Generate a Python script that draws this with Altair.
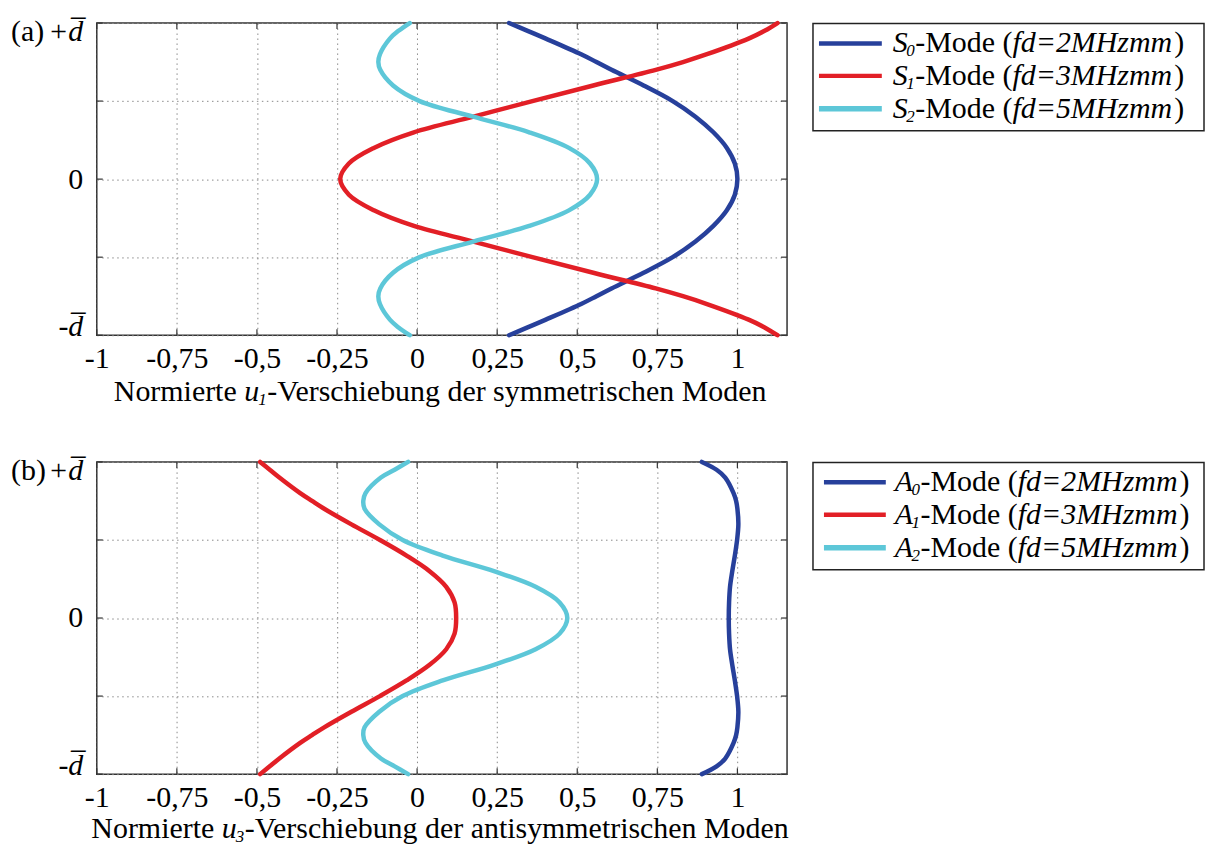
import altair as alt
import pandas as pd

# ---------------- data ----------------
Y = [-1.0, -0.95, -0.9, -0.8, -0.75, -0.7, -0.6, -0.5, -0.4, -0.3, -0.2, -0.1, 0.0,
     0.1, 0.2, 0.3, 0.4, 0.5, 0.6, 0.7, 0.75, 0.8, 0.9, 0.95, 1.0]

S0 = [0.287, 0.345, 0.402, 0.512, 0.56, 0.607, 0.707, 0.798, 0.869, 0.925, 0.967, 0.992, 1.0,
      0.992, 0.967, 0.925, 0.869, 0.798, 0.707, 0.607, 0.56, 0.512, 0.402, 0.345, 0.287]
S1 = [1.125, 1.085, 1.035, 0.905, 0.83, 0.745, 0.55, 0.36, 0.176, -0.01, -0.135, -0.213, -0.24,
      -0.213, -0.135, -0.01, 0.176, 0.36, 0.55, 0.745, 0.83, 0.905, 1.035, 1.085, 1.125]
S2 = [-0.023, -0.058, -0.085, -0.116, -0.121, -0.115, -0.075, 0.008, 0.175, 0.35, 0.474, 0.54, 0.562,
      0.54, 0.474, 0.35, 0.175, 0.008, -0.075, -0.115, -0.121, -0.116, -0.085, -0.058, -0.023]

A0 = [0.889, 0.935, 0.962, 0.988, 0.996, 1.0, 1.003, 0.999, 0.992, 0.984, 0.977, 0.974, 0.973,
      0.974, 0.977, 0.984, 0.992, 0.999, 1.003, 1.0, 0.996, 0.988, 0.962, 0.935, 0.889]
A1 = [-0.49, -0.46, -0.43, -0.365, -0.328, -0.29, -0.205, -0.116, -0.033, 0.039, 0.091, 0.117, 0.122,
      0.117, 0.091, 0.039, -0.033, -0.116, -0.205, -0.29, -0.328, -0.365, -0.43, -0.46, -0.49]
A2 = [-0.028, -0.07, -0.113, -0.161, -0.168, -0.164, -0.118, -0.045, 0.08, 0.24, 0.37, 0.445, 0.469,
      0.445, 0.37, 0.24, 0.08, -0.045, -0.118, -0.164, -0.168, -0.161, -0.113, -0.07, -0.028]

MODES_A = ["S0", "S1", "S2"]
MODES_B = ["A0", "A1", "A2"]
SUBS = ["0", "1", "2"]
FD = ["fd=2MHzmm", "fd=3MHzmm", "fd=5MHzmm"]
X_TICKS = [-1, -0.75, -0.5, -0.25, 0, 0.25, 0.5, 0.75, 1]
Y_TICKS = [-1, -0.5, 0, 0.5, 1]
X_DOMAIN = [-1, 1.155]

TITLE_A = ["Normierte ", "u", "1", "-Verschiebung der symmetrischen Moden"]
TITLE_B = ["Normierte ", "u", "3", "-Verschiebung der antisymmetrischen Moden"]

# ---------------- style ----------------
COLORS = ["#27409b", "#e21f26", "#5dc7d8"]
WIDTHS = [4.5, 4.5, 5.5]
W, H = 692, 313
FONT = "Liberation Serif"
FS = 30
SUBFS = 17

REG = {'N': .722, 'o': .5, 'r': .333, 'm': .778, 'i': .278, 'e': .444, 't': .278, ' ': .25,
       '-': .333, 'V': .722, 's': .389, 'c': .444, 'h': .5, 'b': .5, 'u': .5, 'n': .5,
       'g': .5, 'd': .5, 'y': .5, 'M': .889, 'a': .444, '(': .333, ')': .333}
ITA = {'S': .5, 'A': .611, 'u': .5, 'f': .278, 'd': .5, '=': .675, 'M': .833, 'H': .722,
       'z': .389, 'm': .722}


def tw(s, italic, size):
    tbl = ITA if italic else REG
    return sum(tbl.get(c, 0.5) for c in s) * size


def text_run(parts, x0, y0):
    layers = []
    x = x0
    for txt, italic, size, dy, kern in parts:
        x += kern
        layers.append(
            alt.Chart(pd.DataFrame({"t": [txt]}))
            .mark_text(align="left", baseline="middle", font=FONT, fontSize=size,
                       fontStyle="italic" if italic else "normal", dy=dy, color="black")
            .encode(text="t:N", x=alt.value(x), y=alt.value(y0))
        )
        x += tw(txt, italic, size)
    return layers


def panel(tag, letter, modes, series, title_parts, title_y, leg_line_x, leg_text_x):
    rows = []
    for m, vals in zip(modes, series):
        for yy, xx in zip(Y, vals):
            rows.append({"mode": m, "x": xx, "y": yy})
    df = pd.DataFrame(rows)

    xscale = alt.Scale(domain=X_DOMAIN, nice=False, zero=False)
    yscale = alt.Scale(domain=[-1, 1], nice=False, zero=False)
    grid = dict(grid=True, gridDash=[1.5, 3.5], gridColor="#8a8a8a", gridWidth=1,
                ticks=False, domain=False, labelFont=FONT, labelFontSize=FS,
                labelColor="black", title=None)
    xaxis = alt.Axis(values=X_TICKS, labelExpr="replace(toString(datum.value), '.', ',')",
                     labelPadding=8, labelFlush=False, **grid)
    yaxis = alt.Axis(values=Y_TICKS,
                     labelExpr="datum.value == 1 ? '+d\u0305' : datum.value == -1 ? '-d\u0305' : datum.value == 0 ? '0' : ''",
                     labelPadding=14, labelFlush=True, labelFlushOffset=6,
                     labelFontStyle={"condition": {"test": "datum.value != 0", "value": "italic"},
                                     "value": "normal"},
                     **grid)

    lines = alt.Chart(df).mark_line(interpolate="catmull-rom", strokeCap="round").encode(
        x=alt.X("x:Q", scale=xscale, axis=xaxis),
        y=alt.Y("y:Q", scale=yscale, axis=yaxis),
        color=alt.Color("mode:N", scale=alt.Scale(domain=modes, range=COLORS), legend=None),
        strokeWidth=alt.StrokeWidth("mode:N", scale=alt.Scale(domain=modes, range=WIDTHS), legend=None),
        order="y:Q",
    )

    xt = pd.DataFrame({"x": X_TICKS})
    yt = pd.DataFrame({"y": Y_TICKS})
    tk = dict(color="#333333", strokeWidth=1.2)
    ex = alt.X("x:Q", scale=xscale, axis=xaxis)
    ey = alt.Y("y:Q", scale=yscale, axis=yaxis)
    ticks = [
        alt.Chart(xt).mark_rule(**tk).encode(x=ex, y=alt.value(H), y2=alt.value(H - 6)),
        alt.Chart(xt).mark_rule(**tk).encode(x=ex, y=alt.value(0), y2=alt.value(6)),
        alt.Chart(yt).mark_rule(**tk).encode(y=ey, x=alt.value(0), x2=alt.value(6)),
        alt.Chart(yt).mark_rule(**tk).encode(y=ey, x=alt.value(W - 6), x2=alt.value(W)),
    ]

    # legend box
    box = alt.Chart(pd.DataFrame({"k": [0]})).mark_rect(
        fill="white", stroke="#222222", strokeWidth=1.5
    ).encode(x=alt.value(718), x2=alt.value(1110), y=alt.value(0.5), y2=alt.value(108))
    leg = [box]
    row_y = [20.5, 53, 86]
    for i, m in enumerate(modes):
        ry = row_y[i]
        leg.append(
            alt.Chart(pd.DataFrame({"mode": [m]})).mark_rule(
                color=COLORS[i], strokeWidth=WIDTHS[i]
            ).encode(x=alt.value(leg_line_x[0]), x2=alt.value(leg_line_x[1]), y=alt.value(ry))
        )
        parts = [
            (letter, True, FS, 0, 0),
            (SUBS[i], True, SUBFS, 8, -1.5),
            ("-Mode (", False, FS, 0, 0.5),
            (FD[i], True, FS, 0, 0),
            (")", False, FS, 0, 2),
        ]
        leg += text_run(parts, leg_text_x, ry)

    # axis title with italic u and subscript
    t_parts = [
        (title_parts[0], False, FS, 0, 0),
        (title_parts[1], True, FS, 0, 0),
        (title_parts[2], True, SUBFS, 8, -1),
        (title_parts[3], False, FS, 0, 0.5),
    ]
    total = sum(tw(p[0], p[1], p[2]) + p[4] for p in t_parts)
    title = text_run(t_parts, W / 2 - total / 2, title_y)

    tag_mark = alt.Chart(pd.DataFrame({"t": [tag]})).mark_text(
        align="left", baseline="middle", font=FONT, fontSize=FS, color="black"
    ).encode(text="t:N", x=alt.value(-86), y=alt.value(9))

    return alt.layer(lines, *ticks, *leg, *title, tag_mark).properties(width=W, height=H)


pa = panel("(a)", "S", MODES_A, [S0, S1, S2], TITLE_A, H + 57, (724, 787), 798)
pb = panel("(b)", "A", MODES_B, [A0, A1, A2], TITLE_B, H + 55, (729, 791), 800)

chart = (
    alt.vconcat(pa, pb, spacing=43)
    .resolve_scale(color="independent", strokeWidth="independent", x="independent", y="independent")
    .properties(padding={"left": 2, "top": 4, "right": 0, "bottom": 0}, background="white")
    .configure_view(stroke="#333333", strokeWidth=1.5)
)

chart.save("out.html", embed_options={"renderer": "svg", "actions": False})
